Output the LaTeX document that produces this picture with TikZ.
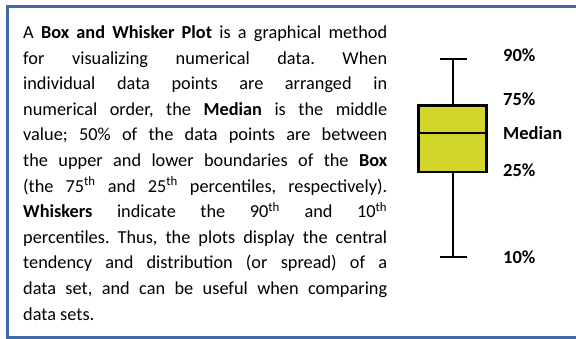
\documentclass[tikz,border=0pt]{standalone}
\usepackage{fontspec}
\setmainfont{Carlito}
\usetikzlibrary{positioning}
\definecolor{frameblue}{HTML}{3E6BA6}
\definecolor{boxfill}{HTML}{D2D62B}

\begin{document}
\begin{tikzpicture}[x=1pt, y=-1pt,
    whisker/.style={line width=2.8pt, black},
    pctlabel/.style={anchor=west, inner sep=0pt, font=\fontsize{18.5}{20}\selectfont\bfseries}]
    % Define page size and frame
    \useasboundingbox (0,0) rectangle (576,339);
    \clip (0,0) rectangle (576,339);
    \draw[frameblue, line width=3.5pt] (7.5,6.5) rectangle (600,337.5);

    % Description text
    \node[anchor=north west, inner sep=0pt, text width=364pt, align=justify,
          font=\fontsize{18.3}{25.6}\selectfont\frenchspacing] (desc) at (23,25.5) {%
        A \textbf{Box and Whisker Plot} is a graphical method\linebreak
        for visualizing numerical data. When\linebreak
        individual data points are arranged in\linebreak
        numerical order, the \textbf{Median} is the middle\linebreak
        value; 50\% of the data points are between\linebreak
        the upper and lower boundaries of the \textbf{Box}\linebreak
        (the 75\textsuperscript{th} and 25\textsuperscript{th} percentiles, respectively).\linebreak
        \textbf{Whiskers} indicate the 90\textsuperscript{th} and 10\textsuperscript{th}\linebreak
        percentiles. Thus, the plots display the central\linebreak
        tendency and distribution (or spread) of a\linebreak
        data set, and can be useful when comparing\linebreak
        data sets.};

    % Define whisker ends and median
    \coordinate (capTop) at (453,59);
    \coordinate (capBot) at (453,257);
    \coordinate (median) at (453,133);

    % Draw box
    \node[draw, whisker, fill=boxfill, inner sep=0pt, minimum width=68pt,
          minimum height=66.5pt] (box) at (452.5,138.7) {};
    \draw[whisker] (box.west |- median) -- (box.east |- median);

    % Draw whiskers and caps
    \draw[whisker] (capTop) -- (box.north -| capTop);
    \draw[whisker] (box.south -| capBot) -- (capBot);
    \draw[whisker] ([xshift=-13pt]capTop) -- ([xshift=14pt]capTop);
    \draw[whisker] ([xshift=-13pt]capBot) -- ([xshift=14pt]capBot);

    % Percentile labels
    \node[pctlabel] (lab90) at (503,55) {90\%};
    \node[pctlabel] (lab75) at (503,99) {75\%};
    \node[pctlabel] (labMed) at (503,133) {Median};
    \node[pctlabel] (lab25) at (503,170) {25\%};
    \node[pctlabel] (lab10) at (503,257) {10\%};
\end{tikzpicture}
\end{document}
